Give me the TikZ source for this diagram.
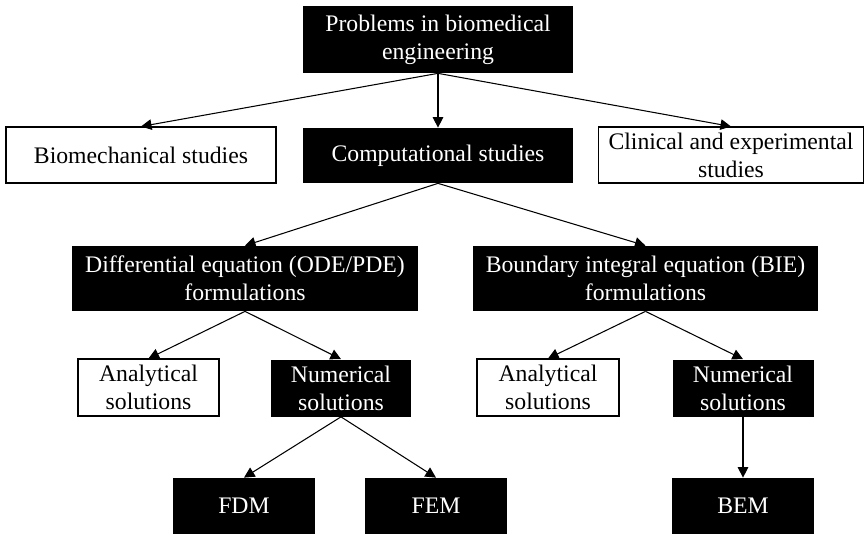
\documentclass[tikz,border=0pt]{standalone}
\usepackage{fontspec}
\setmainfont{Liberation Serif}
\usetikzlibrary{arrows.meta}
\tikzset{
  blackbox/.style={fill=black,text=white,align=center,inner sep=0pt,
    font=\fontsize{13.5}{16}\selectfont},
  whitebox/.style={draw=black,line width=0.6pt,fill=white,align=center,inner sep=0pt,
    font=\fontsize{13.5}{16}\selectfont},
  link/.style={->,line width=0.6pt}
}
\begin{document}
\begin{tikzpicture}[x=0.02cm,y=-0.02cm,>={Triangle[length=6pt,width=6pt]}]
\useasboundingbox (0,0) rectangle (865,534);
% top level
\node[blackbox,minimum width=270*0.02cm,minimum height=67*0.02cm] (prob) at (438,39.5)
	{Problems in biomedical\\engineering};
\node[whitebox,minimum width=270*0.02cm,minimum height=56*0.02cm] (bio) at (141,155)
	{Biomechanical studies};
\node[blackbox,minimum width=270*0.02cm,minimum height=55*0.02cm] (comp) at (438,155.5)
	{Computational studies};
\node[whitebox,minimum width=265*0.02cm,minimum height=56*0.02cm] (clin) at (731,155)
	{Clinical and experimental\\studies};
% formulations
\node[blackbox,minimum width=346*0.02cm,minimum height=65*0.02cm] (ode) at (245,278.5)
	{Differential equation (ODE/PDE)\\formulations};
\node[blackbox,minimum width=345*0.02cm,minimum height=65*0.02cm] (bie) at (645.5,278.5)
	{Boundary integral equation (BIE)\\formulations};
% solutions
\node[whitebox,minimum width=141*0.02cm,minimum height=57*0.02cm] (anaode) at (148.5,387.5)
	{Analytical\\solutions};
\node[blackbox,minimum width=140*0.02cm,minimum height=57*0.02cm] (numode) at (341,388)
	{Numerical\\solutions};
\node[whitebox,minimum width=142*0.02cm,minimum height=57*0.02cm] (anabie) at (548,387.5)
	{Analytical\\solutions};
\node[blackbox,minimum width=141*0.02cm,minimum height=57*0.02cm] (numbie) at (743,388)
	{Numerical\\solutions};
% methods
\node[blackbox,minimum width=142*0.02cm,minimum height=56*0.02cm] (fdm) at (244,506) {FDM};
\node[blackbox,minimum width=142*0.02cm,minimum height=56*0.02cm] (fem) at (436,506) {FEM};
\node[blackbox,minimum width=142*0.02cm,minimum height=56*0.02cm] (bem) at (743,506) {BEM};

\draw[link] (prob.south) -- (bio.north);
\draw[link] (prob.south) -- (comp.north);
\draw[link] (prob.south) -- (clin.north);
\draw[link] (comp.south) -- (ode.north);
\draw[link] (comp.south) -- (bie.north);
\draw[link] (ode.south) -- (anaode.north);
\draw[link] (ode.south) -- (numode.north);
\draw[link] (bie.south) -- (anabie.north);
\draw[link] (bie.south) -- (numbie.north);
\draw[link] (numode.south) -- (fdm.north);
\draw[link] (numode.south) -- (fem.north);
\draw[link] (numbie.south) -- (bem.north);
\end{tikzpicture}
\end{document}
